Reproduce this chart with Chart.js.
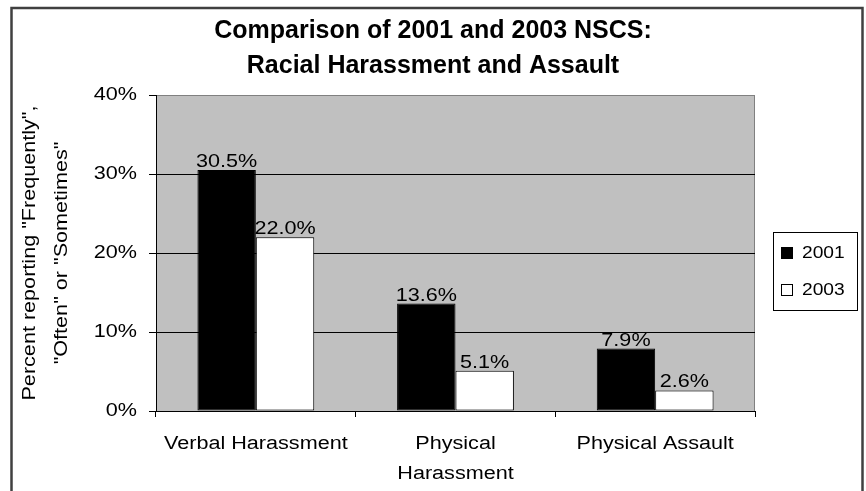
<!DOCTYPE html>
<html lang="en">
  <head>
    <meta charset="UTF-8" />
    <title>NSCS Racial Harassment and Assault</title>
    <script src="https://cdn.jsdelivr.net/npm/chart.js"></script>
    <style>
      html,
      body {
        margin: 0;
        padding: 0;
        background: #ffffff;
      }

      .chart-container {
        position: relative;
        width: 866px;
        height: 491px;
      }
    </style>
  </head>

  <body>
    <div class="chart-container">
      <canvas id="nscsChart"></canvas>
    </div>

    <script>
      const categories = [
        "Verbal Harassment",
        ["Physical", "Harassment"],
        "Physical Assault",
      ];
      const years = ["2001", "2003"];
      const values2001 = [30.5, 13.6, 7.9];
      const values2003 = [22.0, 5.1, 2.6];
      const yTicks = [0, 10, 20, 30, 40];

      // the old Excel charts set body text in a wide Arial, so stretch
      // regular text sideways (bold titles stay as they are)
      const TEXT_STRETCH = 1.2;
      const ctxProto = CanvasRenderingContext2D.prototype;
      const nativeFillText = ctxProto.fillText;
      const nativeMeasureText = ctxProto.measureText;
      const isWide = (c) => !/bold/.test(c.font);

      ctxProto.fillText = function (text, x, y) {
        if (!isWide(this)) return nativeFillText.call(this, text, x, y);
        this.save();
        this.translate(x, y);
        this.scale(TEXT_STRETCH, 1);
        nativeFillText.call(this, text, 0, 0);
        this.restore();
      };

      ctxProto.measureText = function (text) {
        const m = nativeMeasureText.call(this, text);
        if (!isWide(this)) return m;
        return {
          width: m.width * TEXT_STRETCH,
          actualBoundingBoxAscent: m.actualBoundingBoxAscent,
          actualBoundingBoxDescent: m.actualBoundingBoxDescent,
        };
      };

      Chart.defaults.font.family = "'Liberation Sans', Arial, sans-serif";
      Chart.defaults.color = "#000000";

      // white page, outer frame, grey plot area
      const plotArea = {
        id: "plotArea",
        beforeDraw(chart) {
          const { ctx, chartArea: a } = chart;
          ctx.save();
          ctx.fillStyle = "#ffffff";
          ctx.fillRect(0, 0, chart.width, chart.height);
          ctx.strokeStyle = "#404040";
          ctx.lineWidth = 2.5;
          ctx.strokeRect(11.5, 8, 851, 500);
          ctx.fillStyle = "#c0c0c0";
          ctx.fillRect(a.left, a.top, a.right - a.left, a.bottom - a.top);
          ctx.strokeStyle = "#808080";
          ctx.lineWidth = 1;
          ctx.strokeRect(a.left + 0.5, a.top + 0.5, a.right - a.left - 1, a.bottom - a.top);
          ctx.restore();
        },
      };

      // value labels above each bar
      const barValues = {
        id: "barValues",
        afterDatasetsDraw(chart) {
          const { ctx } = chart;
          ctx.save();
          ctx.font = "18px 'Liberation Sans', Arial, sans-serif";
          ctx.fillStyle = "#000000";
          ctx.textAlign = "center";
          ctx.textBaseline = "alphabetic";
          chart.data.datasets.forEach((ds, i) => {
            chart.getDatasetMeta(i).data.forEach((bar, j) => {
              ctx.fillText(ds.data[j].toFixed(1) + "%", bar.x, bar.y - 3);
            });
          });
          ctx.restore();
        },
      };

      // boxed legend on the right
      const boxLegend = {
        id: "boxLegend",
        afterDraw(chart, args, opts) {
          const { ctx } = chart;
          const { x, y, width, height } = opts;
          ctx.save();
          ctx.strokeStyle = "#000000";
          ctx.lineWidth = 1;
          ctx.strokeRect(x + 0.5, y + 0.5, width, height);
          ctx.font = "16px 'Liberation Sans', Arial, sans-serif";
          ctx.textBaseline = "middle";
          chart.data.datasets.forEach((ds, i) => {
            const cy = y + opts.firstRow + i * opts.rowGap;
            ctx.fillStyle = ds.backgroundColor;
            ctx.fillRect(x + 8.5, cy - 5.5, 11, 11);
            ctx.strokeRect(x + 8.5, cy - 5.5, 11, 11);
            ctx.fillStyle = "#000000";
            ctx.fillText(ds.label, x + 29, cy + 1);
          });
          ctx.restore();
        },
      };

      const ctx = document.getElementById("nscsChart").getContext("2d");

      const nscsChart = new Chart(ctx, {
        type: "bar",
        data: {
          labels: categories,
          datasets: [
            {
              label: years[0],
              data: values2001,
              backgroundColor: "#000000",
              borderColor: "#000000",
              borderWidth: 1,
              borderSkipped: false,
            },
            {
              label: years[1],
              data: values2003,
              backgroundColor: "#ffffff",
              borderColor: "#000000",
              borderWidth: 1,
              borderSkipped: false,
            },
          ],
        },
        options: {
          responsive: true,
          maintainAspectRatio: false,
          animation: false,
          layout: {
            padding: 0,
          },
          datasets: {
            bar: {
              categoryPercentage: 0.585,
              barPercentage: 1,
            },
          },
          scales: {
            x: {
              grid: {
                display: true,
                offset: true,
                drawOnChartArea: false,
                drawTicks: true,
                tickLength: 6,
                color: "#000000",
              },
              border: { display: true, color: "#000000" },
              ticks: {
                padding: 12,
                font: { size: 18, lineHeight: 1.65 },
                color: "#000000",
              },
              afterFit: (scale) => {
                scale.height = 80;
              },
            },
            y: {
              min: yTicks[0],
              max: yTicks[yTicks.length - 1],
              grid: {
                color: (c) => (c.tick && c.tick.value === yTicks[yTicks.length - 1] ? "#808080" : "#000000"),
                tickColor: "#000000",
                tickLength: 7,
                drawTicks: true,
              },
              border: { display: true, color: "#000000" },
              ticks: {
                stepSize: yTicks[1] - yTicks[0],
                padding: 12,
                font: { size: 18 },
                color: "#000000",
                callback: (v) => v + "%",
              },
              title: {
                display: true,
                text: ['Percent reporting "Frequently",', '"Often" or "Sometimes"'],
                font: { size: 18, lineHeight: 1.78 },
                padding: { top: 14, bottom: 0 },
                color: "#000000",
              },
              afterFit: (scale) => {
                scale.width = 156;
              },
            },
            // empty right-hand axis that keeps room for the legend box
            legendSpace: {
              type: "linear",
              position: "right",
              display: true,
              grid: { display: false },
              border: { display: false },
              ticks: { display: false },
              afterFit: (scale) => {
                scale.width = 111;
              },
            },
          },
          plugins: {
            legend: { display: false },
            tooltip: { enabled: false },
            title: {
              display: true,
              text: ["Comparison of 2001 and 2003 NSCS:", "Racial Harassment and Assault"],
              font: { size: 25, weight: "bold", lineHeight: 1.4 },
              padding: { top: 14, bottom: 11 },
              color: "#000000",
            },
            boxLegend: {
              x: 773,
              y: 232,
              width: 84,
              height: 78,
              firstRow: 21,
              rowGap: 37,
            },
          },
        },
        plugins: [plotArea, barValues, boxLegend],
      });
    </script>
  </body>
</html>
